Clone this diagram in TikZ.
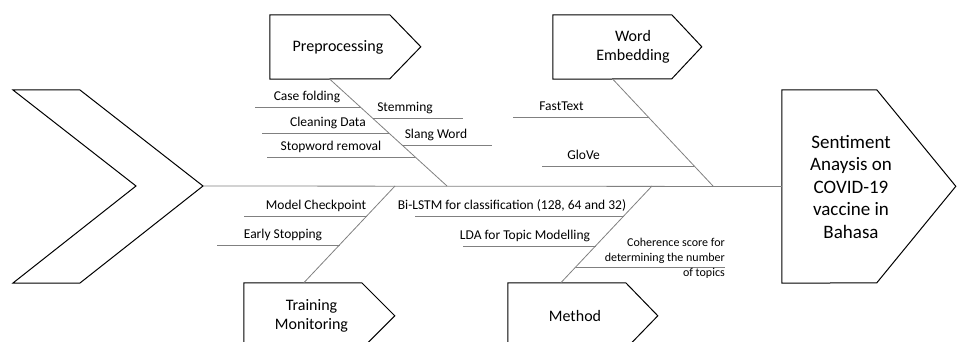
\documentclass[tikz,border=0pt]{standalone}
\usepackage{fontspec}
\setmainfont{Carlito}

\begin{document}
\begin{tikzpicture}[x=1pt,y=-1pt,
  cat/.style n args={3}{inner sep=0pt,minimum height=#2pt,align=center,font=\fontsize{16}{19.5}\selectfont,
    append after command={\pgfextra{\let\catnode\tikzlastnode
      \draw[line width=1pt,line join=miter] (\catnode.north west) -- ++(#1,0) -- ++(#3,#2/2) -- ++(-#3,#2/2) -- (\catnode.south west) -- cycle;}}},
  bone/.style={draw=black!50,line width=0.8pt},
  lbl/.style={anchor=base,inner sep=0pt,font=\fontsize{13.5}{16}\selectfont}]
\useasboundingbox (0,0) rectangle (957,342);
% tail and head
\draw[line width=1pt] (13,90) -- (80,90) -- (203,186) coordinate (tail) -- (80,283) -- (13,283) -- (136,186) -- cycle;
\node[cat={95}{193}{79},minimum width=138pt,font=\fontsize{19}{22.5}\selectfont] (head) at (851,186.5) {Sentiment\\Anaysis on\\COVID-19\\vaccine in\\Bahasa};
\draw[bone] (tail) -- (head.west);
% categories
\node[cat={120}{64}{31},minimum width=136pt] (pre) at (338,47) {Preprocessing};
\node[cat={119}{64}{30},minimum width=160pt] (emb) at (633,47) {Word\\Embedding};
\node[cat={118}{66}{33},minimum width=135pt] (trn) at (311.5,316) {Training\\Monitoring};
\node[cat={118}{66}{32},minimum width=134pt] (mth) at (575,316) {Method};
\coordinate (sp1) at (447,186);
\coordinate (sp2) at (713,186);
\coordinate (sp3) at (395,186);
\coordinate (sp4) at (652,186);
\draw[bone] ([xshift=60pt]pre.south west) -- (sp1);
\draw[bone] ([xshift=60pt]emb.south west) -- (sp2);
\draw[bone] ([xshift=60pt]trn.north west) -- (sp3);
\draw[bone] ([xshift=53pt]mth.north west) -- (sp4);
% causes
\foreach \y/\a/\b/\c/\t [count=\i] in %
{107/255/360.6/307/Case folding,133/262/389/328/Cleaning Data,157/267/415.3/331/Stopword removal,
 118/372.6/463/405/Stemming,145/402.2/492/436/Slang Word,
 117/513/648.5/561.5/FastText,166/542/694.3/583.5/GloVe,
 216/244/366.9/316/Model Checkpoint,245/217/339.6/283/Early Stopping,
 216/415/623.9/512/{Bi-LSTM for classification (128, 64 and 32)},246/463/595.7/525/LDA for Topic Modelling} {
   \draw[bone] (\a,\y) -- (\b,\y);
   \node[lbl] (cause\i) at (\c,\y-6.5) {\t};
}
\draw[bone] (576,267) -- (725,267);
\node[anchor=north east,inner sep=0pt,align=right,font=\fontsize{12}{15}\selectfont] (coh) at (725,237.5) {Coherence score for\\determining the number\\of topics};
\end{tikzpicture}
\end{document}
